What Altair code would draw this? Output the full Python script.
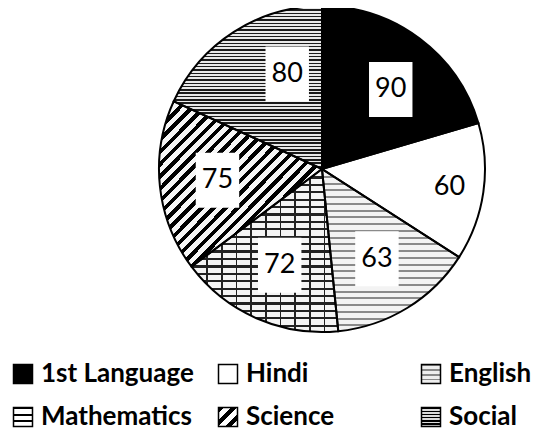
import altair as alt
import pandas as pd

categories = ["1st Language", "Hindi", "English", "Mathematics", "Science", "Social"]
values = [90, 60, 63, 72, 75, 80]

df = pd.DataFrame({"cat": categories, "value": values, "idx": list(range(len(categories)))})

W, H = 524, 422
CX, CY, R = 314, 161, 163


def stripes(n, frac, dark, light, x2=0, y2=1):
    stops = []
    for i in range(n):
        a = i / n
        b = (i + frac) / n
        c = (i + 1) / n
        stops += [
            {"offset": round(a, 5), "color": dark},
            {"offset": round(b, 5), "color": dark},
            {"offset": round(b, 5), "color": light},
            {"offset": round(c, 5), "color": light},
        ]
    return {"gradient": "linear", "x1": 0, "y1": 0, "x2": x2, "y2": y2, "stops": stops}


def cond_fill(mapping, default):
    return {
        "condition": [{"test": f"datum.cat === '{k}'", "value": v} for k, v in mapping.items()],
        "value": default,
    }


pie_fills = {
    "1st Language": "black",
    "English": stripes(24, 0.3, "#8a8a8a", "#f3f3f3"),
    "Mathematics": stripes(22, 0.3, "#222222", "#f4f4f4"),
    "Science": stripes(27, 0.45, "black", "#f6f6f6", x2=1, y2=1),
    "Social": stripes(49, 0.45, "#1a1a1a", "#e8e8e8"),
}
brick_fill = {
    "Mathematics": stripes(10, 0.13, "#222222", "rgba(255,255,255,0)", x2=1, y2=0),
}
legend_fills = {
    "1st Language": "black",
    "English": stripes(4, 0.35, "#888888", "#eeeeee"),
    "Mathematics": stripes(3, 0.3, "black", "white"),
    "Science": stripes(3, 0.45, "black", "white", x2=1, y2=1),
    "Social": stripes(6, 0.45, "black", "#dddddd"),
}

base = alt.Chart(df)
theta = alt.Theta("value:Q", stack=True)
order = alt.Order("idx:Q")

pie = base.mark_arc(radius=R, strokeWidth=0).encode(
    theta=theta, order=order, x=alt.value(CX), y=alt.value(CY),
    fill=cond_fill(pie_fills, "white"),
)
bricks = base.mark_arc(radius=R, strokeWidth=0).encode(
    theta=theta, order=order, x=alt.value(CX), y=alt.value(CY),
    fill=cond_fill(brick_fill, "rgba(255,255,255,0)"),
)
outline = base.mark_arc(radius=R, stroke="black", strokeWidth=2, fillOpacity=0).encode(
    theta=theta, order=order, x=alt.value(CX), y=alt.value(CY),
)

xs = alt.X("px:Q", scale=alt.Scale(domain=[0, W], range=[0, W], nice=False, zero=False), axis=None)
ys = alt.Y("py:Q", scale=alt.Scale(domain=[0, H], range=[0, H], nice=False, zero=False), axis=None)

lab = base.transform_window(
    cum="sum(value)", sort=[alt.SortField("idx")], frame=[None, 0]
).transform_joinaggregate(
    total="sum(value)"
).transform_calculate(
    ang="(datum.cum - datum.value / 2) / datum.total * 2 * PI"
        " + (datum.cat === 'Social' ? 0.22 : datum.cat === '1st Language' ? 0.07 : 0)",
    rr=f"datum.cat === 'Hindi' ? {0.79 * R} : (datum.cat === 'Social' ? {0.62 * R} : {0.645 * R})",
    px=f"{CX} + datum.rr * sin(datum.ang)",
    py=f"{CY} - datum.rr * cos(datum.ang)",
)

boxes = lab.mark_point(
    shape="M-0.79,-1H0.79V1H-0.79Z", size=55 * 55, filled=True, fill="white", opacity=1, strokeWidth=0
).encode(x=xs, y=ys)
texts = lab.mark_text(font="Lato", fontSize=27, color="black", align="center", baseline="middle").encode(
    x=xs, y=ys, text="value:Q"
)

leg = base.transform_calculate(
    col="datum.idx % 3",
    row="floor(datum.idx / 3)",
    py="[366, 409][datum.row]",
)
leg_sym = leg.transform_calculate(px="[15, 220, 423][datum.col]").mark_point(
    shape="square", size=19 * 19, filled=True, opacity=1, stroke="black", strokeWidth=1.5
).encode(x=xs, y=ys, fill=cond_fill(legend_fills, "white"))
leg_txt = leg.transform_calculate(px="[33, 238, 441][datum.col]").mark_text(
    font="Lato", fontWeight="bold", fontSize=26, align="left", baseline="middle", color="black"
).encode(x=xs, y=ys, text="cat:N")

chart = alt.layer(pie, bricks, outline, boxes, texts, leg_sym, leg_txt).properties(
    width=W, height=H, padding=0, autosize=alt.AutoSizeParams(type="none")
).configure_view(stroke=None)

chart.save("out.html", embed_options={"renderer": "svg", "actions": False})
